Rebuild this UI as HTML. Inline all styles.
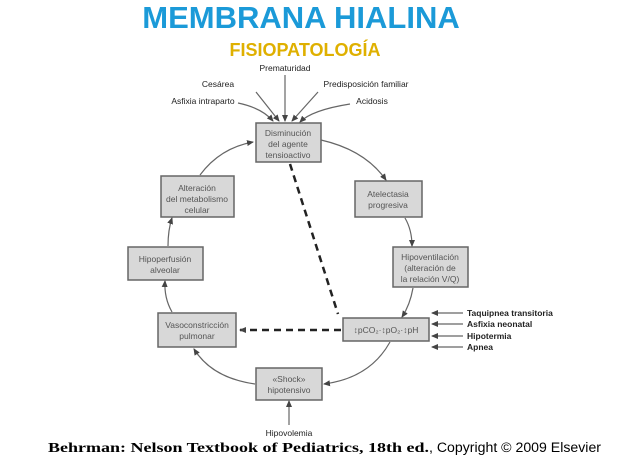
<!DOCTYPE html>
<html><head><meta charset="utf-8"><style>
body{margin:0;width:618px;height:461px;background:#fff;overflow:hidden;font-family:"Liberation Sans",sans-serif}
.t{position:absolute;left:0;width:618px;text-align:center;font-weight:bold}
</style></head><body>
<div class="t" style="top:0;font-size:31px;color:#1b9ad8;left:-8px">MEMBRANA HIALINA</div>
<div class="t" style="top:40px;font-size:18px;color:#dfb000;left:-4px">FISIOPATOLOGÍA</div>
<svg width="618" height="461" style="position:absolute;left:0;top:0" font-family="Liberation Sans, sans-serif">
<defs><marker id="a" markerUnits="userSpaceOnUse" markerWidth="7" markerHeight="7" refX="6" refY="3.5" orient="auto"><path d="M0,0.5L7,3.5L0,6.5z" fill="#444"/></marker></defs>
<g fill="#d8d8d8" stroke="#666" stroke-width="1.5">
<rect x="256" y="123" width="65" height="39"/>
<rect x="161" y="176" width="73" height="41"/>
<rect x="355" y="181" width="67" height="36"/>
<rect x="128" y="247" width="75" height="33"/>
<rect x="393" y="247" width="75" height="40"/>
<rect x="158" y="313" width="78" height="34"/>
<rect x="343" y="318" width="86" height="23"/>
<rect x="256" y="368" width="66" height="32"/>
</g>
<g fill="none" stroke="#666" stroke-width="1.2" marker-end="url(#a)">
<path d="M321,140 Q365,150 386,180"/>
<path d="M405,218 Q412,230 412,246"/>
<path d="M413,288 Q410,305 402,317"/>
<path d="M390,342 Q370,378 324,384"/>
<path d="M255,384 Q212,378 194,349"/>
<path d="M172,312 Q164,298 165,281"/>
<path d="M168,246 Q168,230 172,218"/>
<path d="M200,175 Q220,148 253,142"/>
<path d="M238,103 Q262,108 273,121"/><path d="M256,92 L279,121"/><path d="M285,75 L285,121"/><path d="M318,92 L292,121"/><path d="M350,104 Q312,110 300,122"/>
<path d="M289,425 L289,401"/>
<path d="M463,313 L432,313"/><path d="M463,324 L432,324"/><path d="M463,336 L432,336"/><path d="M463,347 L432,347"/>
</g>
<path d="M290,164 L338,314" stroke="#222" stroke-width="2.5" stroke-dasharray="7,5" fill="none"/>
<path d="M341,330 L240,330" stroke="#222" stroke-width="2.5" stroke-dasharray="7,5" fill="none" marker-end="url(#a)"/>
<g font-size="8.5" fill="#555" text-anchor="middle">
<text x="288" y="136">Disminución</text><text x="288" y="147">del agente</text><text x="288" y="158">tensioactivo</text>
<text x="197" y="191">Alteración</text><text x="197" y="202">del metabolismo</text><text x="197" y="213">celular</text>
<text x="388" y="197">Atelectasia</text><text x="388" y="208">progresiva</text>
<text x="165" y="262">Hipoperfusión</text><text x="165" y="273">alveolar</text>
<text x="430" y="260">Hipoventilación</text><text x="430" y="271">(alteración de</text><text x="430" y="282">la relación V/Q)</text>
<text x="197" y="328">Vasoconstricción</text><text x="197" y="339">pulmonar</text>
<text x="386" y="333">↕pCO₂·↕pO₂·↕pH</text>
<text x="289" y="382">«Shock»</text><text x="289" y="393">hipotensivo</text>
</g>
<g font-size="8.5" fill="#222" text-anchor="middle">
<text x="285" y="71">Prematuridad</text><text x="218" y="87">Cesárea</text><text x="366" y="87">Predisposición familiar</text>
<text x="203" y="104">Asfixia intraparto</text><text x="372" y="104">Acidosis</text>
<text x="289" y="436">Hipovolemia</text>
</g>
<g font-size="8.5" fill="#222" font-weight="bold">
<text x="467" y="316">Taquipnea transitoria</text><text x="467" y="327">Asfixia neonatal</text><text x="467" y="339">Hipotermia</text><text x="467" y="350">Apnea</text>
</g>
<text x="48" y="452" font-size="13.5" fill="#000" font-family="Liberation Serif, serif" font-weight="bold" textLength="381" lengthAdjust="spacingAndGlyphs">Behrman: Nelson Textbook of Pediatrics, 18th ed.</text>
<text x="429" y="452" font-size="13.5" fill="#000" textLength="172" lengthAdjust="spacingAndGlyphs">, Copyright © 2009 Elsevier</text>
</svg>
</body></html>
